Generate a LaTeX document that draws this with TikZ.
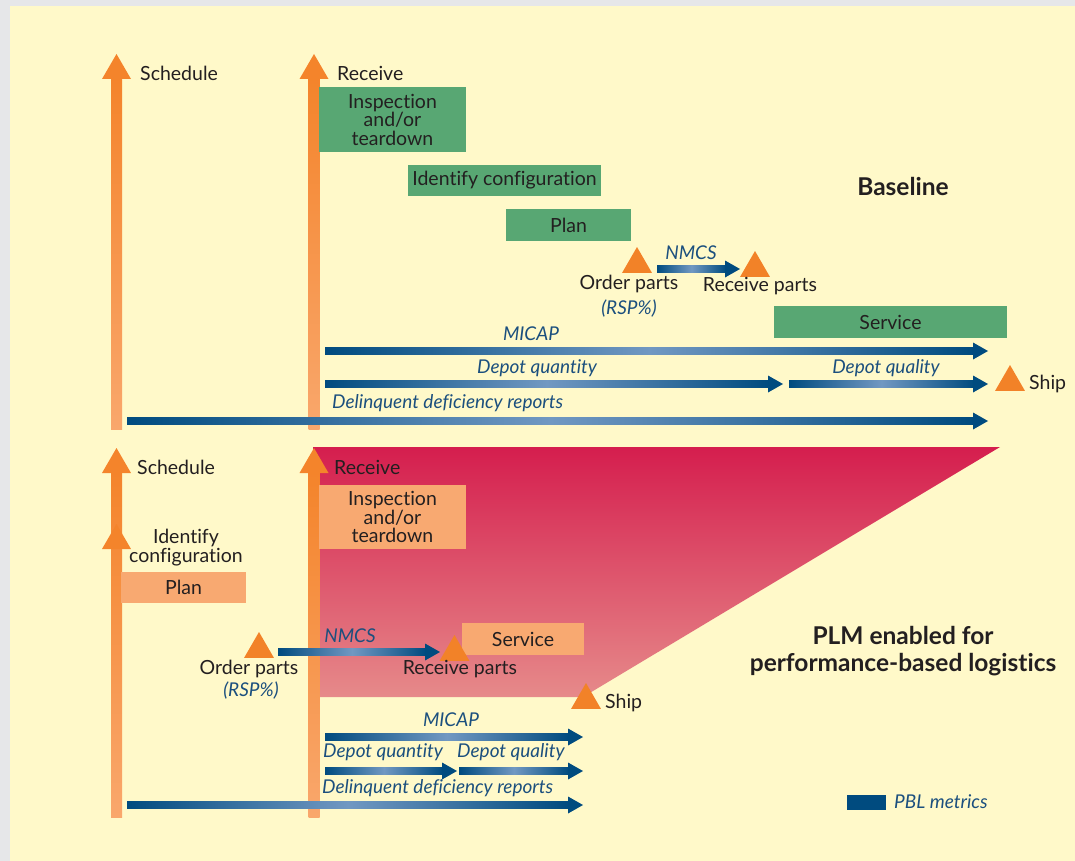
\documentclass[tikz,border=0pt]{standalone}
\usepackage{fontspec}
\setmainfont{Lato}[Ligatures=NoCommon]
\usetikzlibrary{calc,shapes.geometric}
\definecolor{graybg}{HTML}{E6E7E9}
\definecolor{cream}{HTML}{FFF9C9}
\definecolor{orA}{HTML}{F4842B}
\definecolor{orB}{HTML}{F9A76C}
\definecolor{tri}{HTML}{F28228}
\definecolor{grn}{HTML}{58A773}
\definecolor{lor}{HTML}{F8A971}
\definecolor{bD}{HTML}{004B7F}
\definecolor{bL}{HTML}{7198C2}
\definecolor{txt}{HTML}{231F20}
\definecolor{btxt}{HTML}{1B4F7E}
\definecolor{redtop}{HTML}{D51E4E}
\definecolor{redbot}{HTML}{E68A8A}
\newcommand\vorarrow[2]{%
  \shade[top color=orA, bottom color=orB] ($(#1)+(-5.5,0)$) rectangle ($(#2)+(5.5,24)$);
  \fill[orA] ($(#2)+(-14.5,25)$) -- (#2) -- ($(#2)+(14.5,25)$) -- cycle;}
\newcommand\hbarrow[2]{%
  \shade[left color=bD, right color=bD, middle color=bL] ($(#1)+(0,-3.5)$) rectangle ($(#2)+(-14,3.5)$);
  \fill[bD] ($(#2)+(-15,-8.5)$) -- (#2) -- ($(#2)+(-15,8.5)$) -- cycle;}
\begin{document}
\begin{tikzpicture}[x=1pt,y=-1pt,
  lbl/.style={text=txt, inner sep=0pt, font=\fontsize{19.5}{19}\selectfont, align=center},
  mlbl/.style={text=btxt, inner sep=0pt, font=\fontsize{19}{19}\selectfont\itshape, align=center},
  ttl/.style={text=txt, inner sep=0pt, font=\fontsize{24.5}{27}\selectfont\bfseries, align=center},
  gbox/.style={fill=grn, text=txt, inner sep=0pt, font=\fontsize{19.5}{18.5}\selectfont, align=center},
  obox/.style={fill=lor, text=txt, inner sep=0pt, font=\fontsize{19.5}{18.5}\selectfont, align=center},
  trinode/.style={regular polygon, regular polygon sides=3, minimum size=34.6pt, inner sep=0pt, fill=tri}]
\useasboundingbox (0,0) rectangle (1075,861);
\fill[graybg] (0,0) rectangle (1075,861);
\fill[cream] (10,6) rectangle (1075,861);

% ---------- coordinates ----------
\coordinate (s1tip) at (116.5,54);  \coordinate (s1end) at (116.5,429);
\coordinate (r1tip) at (314,54);    \coordinate (r1end) at (314,429);
\coordinate (s2tip) at (116.5,448); \coordinate (s2end) at (116.5,817);
\coordinate (r2tip) at (314,448);   \coordinate (r2end) at (314,817);
\coordinate (ictip) at (116.5,524);

% ---------- PLM region ----------
\shade[top color=redtop, bottom color=redbot] (313,447) -- (1000,447) -- (583,697) -- (313,697) -- cycle;

% ---------- vertical arrows ----------
\vorarrow{s1end}{s1tip}
\vorarrow{r1end}{r1tip}
\vorarrow{s2end}{s2tip}
\vorarrow{r2end}{r2tip}
\fill[orA] ($(ictip)+(-14.5,25)$) -- (ictip) -- ($(ictip)+(14.5,25)$) -- cycle;

\node[lbl, anchor=west] (sched1) at (140,73) {Schedule};
\node[lbl, anchor=west] (recv1) at (337,73) {Receive};
\node[lbl, anchor=west] (sched2) at (137,467) {Schedule};
\node[lbl, anchor=west] (recv2) at (334,467) {Receive};

% ---------- baseline ----------
\node[gbox, minimum width=147pt, minimum height=65pt] (insp1) at (392.5,119.5) {Inspection\\and/or\\teardown};
\node[gbox, minimum width=193pt, minimum height=31pt] (idc1) at (504.5,180.5) {Identify configuration};
\node[gbox, minimum width=125pt, minimum height=32pt] (plan1) at (568.5,225) {Plan};
\node[gbox, minimum width=233pt, minimum height=32pt] (serv1) at (890.5,322) {Service};

\node[trinode] (op1) at (637,264.3) {};
\node[trinode] (rp1) at (755,268.3) {};
\node[trinode] (ship1) at (1010,382.3) {};
\coordinate (nm1s) at (657,269);
\coordinate (nm1e) at (740,269);
\hbarrow{nm1s}{nm1e}
\node[mlbl] (nmcs1) at (691,253) {NMCS};
\node[lbl] (opl1) at (629,284) {Order parts};
\node[mlbl] (rsp1) at (629,309) {(RSP\%)};
\node[lbl] (rpl1) at (760,286) {Receive parts};
\node[lbl, anchor=west] (shipl1) at (1029,384) {Ship};

\coordinate (mi1s) at (325,351); \coordinate (mi1e) at (988,351);
\coordinate (dqn1s) at (325,384); \coordinate (dqn1e) at (783,384);
\coordinate (dql1s) at (789,384); \coordinate (dql1e) at (988,384);
\coordinate (dd1s) at (127,421); \coordinate (dd1e) at (988,421);
\hbarrow{mi1s}{mi1e}
\hbarrow{dqn1s}{dqn1e}
\hbarrow{dql1s}{dql1e}
\hbarrow{dd1s}{dd1e}
\node[mlbl] (micap1) at (531,334) {MICAP};
\node[mlbl] (dqnl1) at (537,368) {Depot quantity};
\node[mlbl] (dqll1) at (886,368) {Depot quality};
\node[mlbl, anchor=west] (ddl1) at (332,403) {Delinquent deficiency reports};
\node[ttl] (base) at (903,186) {Baseline};

% ---------- PLM ----------
\node[obox, minimum width=147pt, minimum height=64pt] (insp2) at (392.5,517) {Inspection\\and/or\\teardown};
\node[lbl] (idc2) at (186,547.5) {Identify\\configuration};
\node[obox, minimum width=125pt, minimum height=31pt] (plan2) at (183.5,587.5) {Plan};
\node[obox, minimum width=122pt, minimum height=32pt] (serv2) at (523,639) {Service};

\node[trinode] (op2) at (259,649.3) {};
\node[trinode] (rp2) at (454.5,652.3) {};
\node[trinode] (ship2) at (586,700.3) {};
\coordinate (nm2s) at (278,652);
\coordinate (nm2e) at (440,652);
\hbarrow{nm2s}{nm2e}
\node[mlbl] (nmcs2) at (350,636) {NMCS};
\node[lbl] (opl2) at (249,669) {Order parts};
\node[mlbl] (rsp2) at (251,691) {(RSP\%)};
\node[lbl] (rpl2) at (460,669) {Receive parts};
\node[lbl, anchor=west] (shipl2) at (605,703) {Ship};

\coordinate (mi2s) at (325,737); \coordinate (mi2e) at (583,737);
\coordinate (dqn2s) at (325,771); \coordinate (dqn2e) at (457,771);
\coordinate (dql2s) at (459,771); \coordinate (dql2e) at (583,771);
\coordinate (dd2s) at (127,805); \coordinate (dd2e) at (583,805);
\hbarrow{mi2s}{mi2e}
\hbarrow{dqn2s}{dqn2e}
\hbarrow{dql2s}{dql2e}
\hbarrow{dd2s}{dd2e}
\node[mlbl] (micap2) at (451,720) {MICAP};
\node[mlbl, anchor=west] (dqnl2) at (323,752) {Depot quantity};
\node[mlbl, anchor=west] (dqll2) at (457,752) {Depot quality};
\node[mlbl, anchor=west] (ddl2) at (322,788) {Delinquent deficiency reports};
\node[ttl] (plm) at (903,651.5) {PLM enabled for\\performance-based logistics};

% ---------- legend ----------
\node[fill=bD, minimum width=39pt, minimum height=15pt, inner sep=0pt] (legbox) at (866.5,802.5) {};
\node[mlbl, anchor=west] (legl) at (894,802) {PBL metrics};
\end{tikzpicture}
\end{document}
